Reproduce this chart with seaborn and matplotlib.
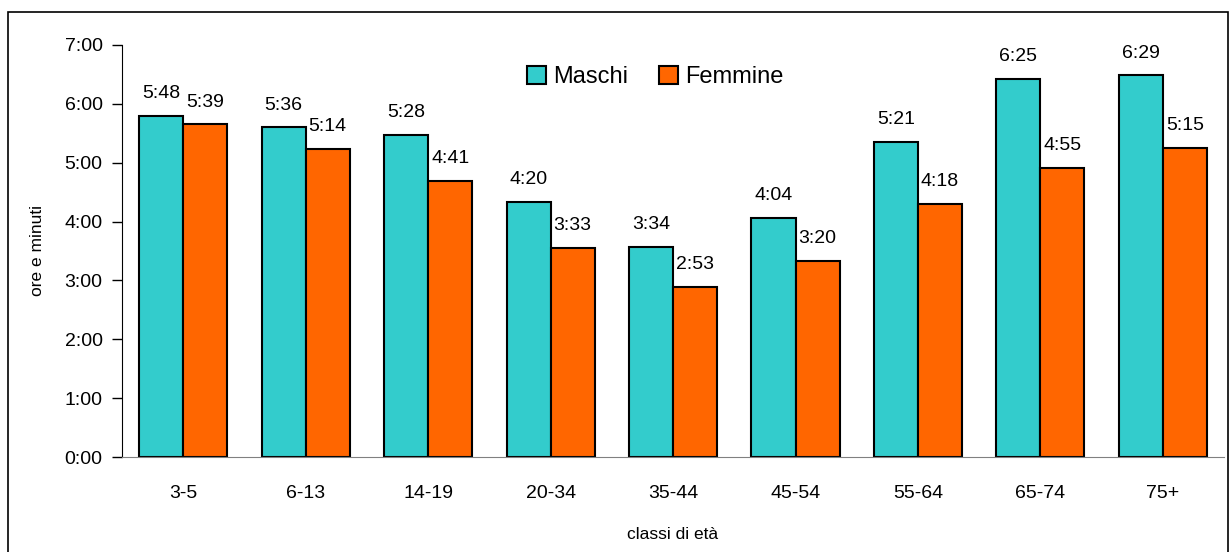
import matplotlib
matplotlib.use("Agg")
import matplotlib.pyplot as plt
from matplotlib.patches import Rectangle
import seaborn as sns
import pandas as pd

# dati: minuti medi per classe di età
classi = ["3-5", "6-13", "14-19", "20-34", "35-44", "45-54", "55-64", "65-74", "75+"]
maschi = [348, 336, 328, 260, 214, 244, 321, 385, 389]
femmine = [339, 314, 281, 213, 173, 200, 258, 295, 315]
sessi = ["Maschi", "Femmine"]
colori = ["#33CCCC", "#FF6600"]


def hmm(m):
    return f"{int(m) // 60}:{int(m) % 60:02d}"


df = pd.DataFrame({
    "classe": classi * 2,
    "sesso": ["Maschi"] * len(classi) + ["Femmine"] * len(classi),
    "minuti": maschi + femmine,
})

sns.set_style("white", {"text.color": "black", "axes.labelcolor": "black",
                        "xtick.color": "black", "ytick.color": "black"})
plt.rcParams["font.family"] = ["Liberation Sans", "DejaVu Sans"]

fig = plt.figure(figsize=(12.29, 5.52), dpi=100)
ax = fig.add_axes([0.0993, 0.1721, 0.8967, 0.7464])

sns.barplot(data=df, x="classe", y="minuti", hue="sesso", order=classi,
            hue_order=sessi, palette=colori, saturation=1, width=0.72,
            edgecolor="black", linewidth=1.5, errorbar=None, ax=ax)

for cont, vals in zip(ax.containers, [maschi, femmine]):
    ax.bar_label(cont, labels=[hmm(v) for v in vals], padding=10, fontsize=14, color="black")

ax.set_xlim(-0.5, 8.5)
ax.set_ylim(0, 420)
ax.set_yticks(range(0, 421, 60))
ax.set_yticklabels([hmm(v) for v in range(0, 421, 60)], fontsize=14)
ax.tick_params(axis="y", length=7, width=1, color="black", direction="out", left=True, pad=7)
ax.tick_params(axis="x", length=0, labelsize=14, pad=20)

for s in ["top", "right"]:
    ax.spines[s].set_visible(False)
ax.spines["left"].set_color("black")
ax.spines["bottom"].set_color("#808080")

ax.set_ylabel("ore e minuti", fontsize=12.5, labelpad=14)
ax.set_xlabel("classi di età", fontsize=12.5, labelpad=18)

leg = ax.legend(loc="center", bbox_to_anchor=(0.484, 0.922), ncol=2, frameon=False,
                fontsize=17, handlelength=0.8, handleheight=0.8, columnspacing=1.3,
                handletextpad=0.3)

# cornice esterna
fig.patches.append(Rectangle((8 / 1229, -0.05), 1220 / 1229, 0.05 + 540 / 552,
                             transform=fig.transFigure, fill=False,
                             edgecolor="black", linewidth=1.2))

fig.savefig("out.png", dpi=100)
